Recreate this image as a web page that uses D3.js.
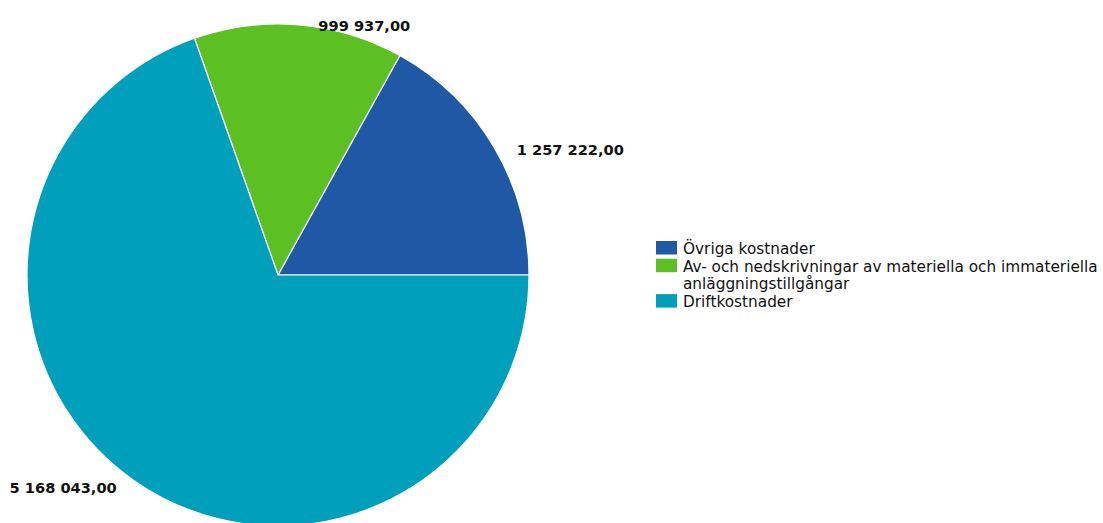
<!DOCTYPE html>
<html><head><meta charset="utf-8">
<script src="https://cdn.jsdelivr.net/npm/d3@7"></script>
<style>
html,body{margin:0;padding:0;background:#fff;}
svg{display:block;}
</style></head>
<body>
<svg id="chart" width="1103" height="523"></svg>
<script>
const categories = ["Övriga kostnader", "Av- och nedskrivningar av materiella och immateriella anläggningstillgångar", "Driftkostnader"];
const legendLines = [["Övriga kostnader"], ["Av- och nedskrivningar av materiella och immateriella", "anläggningstillgångar"], ["Driftkostnader"]];
const values = [1257222, 999937, 5168043];
const valueLabels = ["1 257 222,00", "999 937,00", "5 168 043,00"];
const colors = ["#1f59a5", "#5cbf22", "#00a0bc"];

const svg = d3.select("#chart");
const cx = 278, cy = 275, r = 251;
const g = svg.append("g").attr("transform", `translate(${cx},${cy})`);

const data = categories.map((c, i) => ({cat: c, value: values[i], label: valueLabels[i], color: colors[i], lines: legendLines[i]}));
const pie = d3.pie().value(d => d.value).sort(null)
  .startAngle(Math.PI / 2).endAngle(Math.PI / 2 - 2 * Math.PI);
const arcs = pie(data);
const arc = d3.arc().innerRadius(0).outerRadius(r);

g.selectAll("path.slice").data(arcs).enter().append("path")
  .attr("class", "slice")
  .attr("d", arc)
  .attr("fill", d => d.data.color)
  .attr("stroke", "#ffffff")
  .attr("stroke-width", 1.2);

g.selectAll("text.val").data(arcs).enter().append("text")
  .attr("class", "val")
  .each(function(d) {
    const mid = (d.startAngle + d.endAngle) / 2;
    const x = Math.sin(mid) * (r + 4);
    const y = -Math.cos(mid) * (r + 4);
    const right = Math.sin(mid) >= 0;
    d3.select(this)
      .attr("x", right ? x + 19 : x - 14)
      .attr("y", y + 4.5)
      .attr("dy", "0.35em")
      .attr("text-anchor", right ? "start" : "end");
  })
  .attr("font-family", "'DejaVu Sans', Verdana, sans-serif")
  .attr("font-weight", "bold")
  .attr("font-size", 14.6)
  .attr("fill", "#111")
  .text(d => d.data.label);

// Legend
const lx = 656, ly = 241, rowH = 17.7;
const legend = svg.append("g").attr("transform", `translate(${lx},${ly})`);
let yOff = 0;
data.forEach((d, i) => {
  const row = legend.append("g").attr("transform", `translate(0,${yOff})`);
  row.append("rect").attr("width", 21).attr("height", 13.5).attr("fill", d.color);
  d.lines.forEach((line, j) => {
    row.append("text")
      .attr("x", 27).attr("y", 13 + j * rowH)
      .attr("font-family", "'DejaVu Sans', Verdana, sans-serif")
      .attr("font-size", 15.3)
      .attr("fill", "#111")
      .text(line);
  });
  yOff += d.lines.length * rowH;
});
</script>
</body></html>
